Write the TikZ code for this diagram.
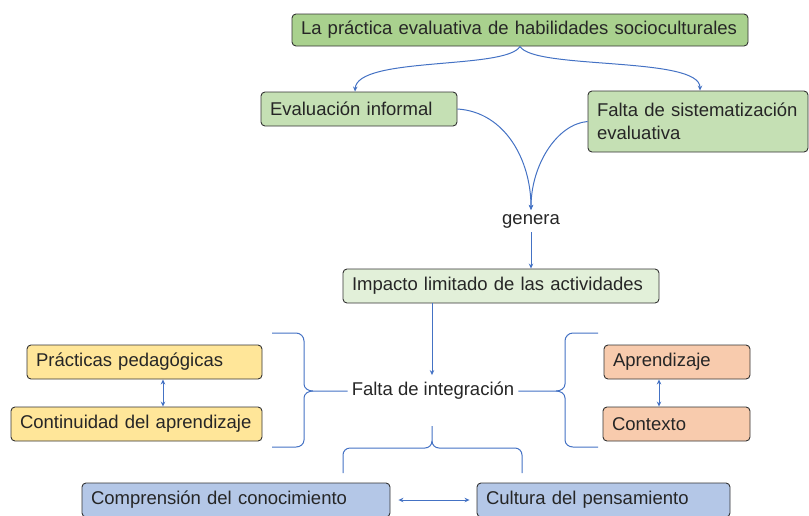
\documentclass[tikz,border=0pt]{standalone}
\usepackage{fontspec}
\setmainfont{Liberation Sans}
\usetikzlibrary{arrows.meta}
\definecolor{cTop}{HTML}{A9D18E}
\definecolor{cMid}{HTML}{C5E0B4}
\definecolor{cImp}{HTML}{E2F0D9}
\definecolor{cYel}{HTML}{FFE699}
\definecolor{cOra}{HTML}{F8CBAD}
\definecolor{cBlu}{HTML}{B4C7E7}
\definecolor{lineblue}{HTML}{4472C4}
\definecolor{txt}{HTML}{262626}
\begin{document}
\begin{tikzpicture}[x=1pt,y=-1pt,
  box/.style={draw=black!80, line width=0.9pt, rounded corners=4pt, inner xsep=9pt, inner ysep=0pt,
    align=left, text=txt, font=\fontsize{18.5}{23}\selectfont},
  lbl/.style={text=txt, font=\fontsize{18.5}{23}\selectfont, inner sep=4pt},
  conn/.style={draw=lineblue, line width=1pt},
  tip/.style={-{Stealth[length=5pt,width=4.5pt]}},
  both/.style={{Stealth[length=5pt,width=4.5pt]}-{Stealth[length=5pt,width=4.5pt]}}]
\useasboundingbox (0,0) rectangle (809,515);

% boxes
\node[box, fill=cTop, minimum height=32pt, text width=438pt] (top) at (520,30) {La práctica evaluativa de habilidades socioculturales};
\node[box, fill=cMid, minimum height=34pt, text width=178pt] (eval) at (359,109) {Evaluación informal};
\node[box, fill=cMid, minimum height=61pt, text width=202pt] (falta) at (698,121.5) {\mbox{Falta de sistematización}\\evaluativa};
\node[lbl] (gen) at (531,221) {genera};
\node[box, fill=cImp, minimum height=34pt, text width=298pt] (imp) at (501,286) {Impacto limitado de las actividades};
\node[lbl, inner ysep=7pt] (integ) at (433,391) {Falta de integración};
\node[box, fill=cYel, minimum height=34pt, text width=217pt] (prac) at (144.5,362) {Prácticas pedagógicas};
\node[box, fill=cYel, minimum height=34pt, text width=233pt] (cont) at (136.5,424) {Continuidad del aprendizaje};
\node[box, fill=cOra, minimum height=34pt, text width=128pt] (apr) at (677,362) {Aprendizaje};
\node[box, fill=cOra, minimum height=34pt, text width=129pt] (ctx) at (676.5,424) {Contexto};
\node[box, fill=cBlu, minimum height=34pt, text width=290pt] (comp) at (236,500) {Comprensión del conocimiento};
\node[box, fill=cBlu, minimum height=34pt, text width=235pt] (cult) at (603.5,500) {Cultura del pensamiento};

\coordinate (xl) at (163,0);
\coordinate (xr) at (659,0);
\coordinate (xi) at (432,0);

% connectors
\draw[conn,tip] (top.south) .. controls (506,70) and (357,56) .. ([xshift=-4pt]eval.north);
\draw[conn,tip] (top.south) .. controls (534,70) and (700,56) .. ([xshift=2pt]falta.north);
\draw[conn,tip] (eval.east) .. controls (505,112) and (531,160) .. (gen.north);
\draw[conn,tip] (falta.west) .. controls (557,124) and (531,165) .. (gen.north);
\draw[conn,tip] (gen.south) -- (gen.south |- imp.north);
\draw[conn,tip] (imp.south -| xi) -- (integ.north -| xi);
\draw[conn,both] (prac.south -| xl) -- (cont.north -| xl);
\draw[conn,both] (apr.south -| xr) -- (ctx.north -| xr);
\draw[conn,both,shorten <=8pt,shorten >=7pt] (comp.east) -- (cult.west);

% braces
\draw[conn] (272,333) -- (296,333) to[out=0,in=90] (304,341) -- (304,384) to[out=-90,in=180] (313,391) -- (integ.west);
\draw[conn] (313,391) to[out=180,in=90] (304,398) -- (304,440) to[out=-90,in=0] (296,447) -- (272,447);
\draw[conn] (598,333) -- (573,333) to[out=180,in=90] (565,341) -- (565,384) to[out=-90,in=0] (556,391) -- (integ.east);
\draw[conn] (556,391) to[out=0,in=90] (565,398) -- (565,440) to[out=-90,in=180] (573,447) -- (598,447);
\draw[conn] (343,473) -- (343,455) to[out=90,in=180] (350,448) -- (425,448) to[out=0,in=-90] (432,441) -- (432,426);
\draw[conn] (432,441) to[out=-90,in=180] (439,448) -- (515,448) to[out=0,in=90] (522,455) -- (522,473);
\end{tikzpicture}
\end{document}
